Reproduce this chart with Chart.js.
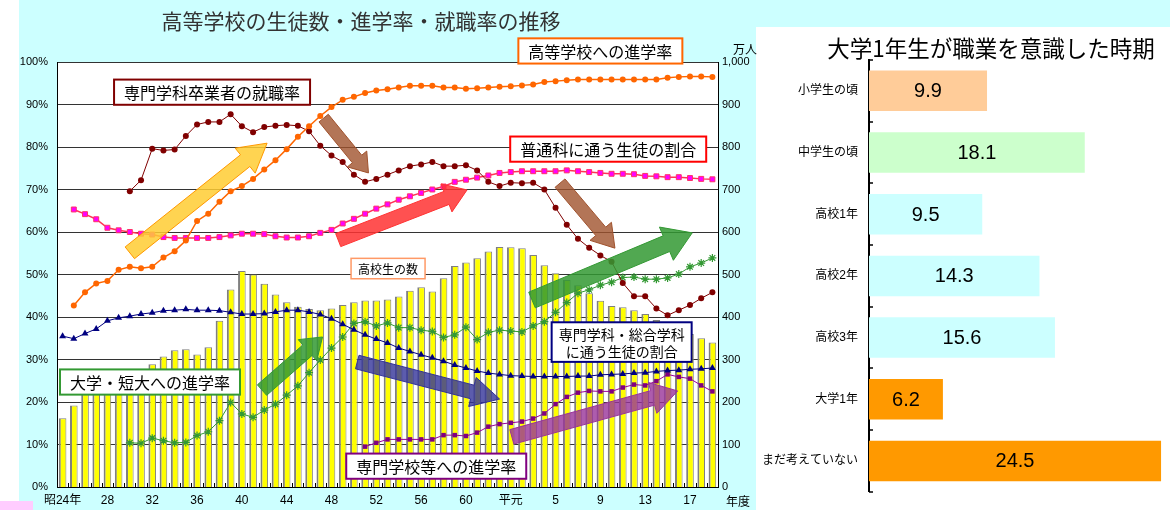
<!DOCTYPE html>
<html>
<head>
<meta charset="utf-8">
<script src="https://cdn.jsdelivr.net/npm/chart.js@4/dist/chart.umd.min.js"></script>
<style>
  body { margin: 0; width: 1170px; height: 510px; position: relative; background: #fff; overflow: hidden; }
  #bgL { position: absolute; left: 19px; top: 0; width: 737px; height: 510px; background: #ccffff; }
  #bgT { position: absolute; left: 19px; top: 0; width: 1151px; height: 27px; background: #ccffff; }
  #pink { position: absolute; left: 0; top: 501px; width: 33px; height: 9px; background: #ffccff; }
  #left { position: absolute; left: 0; top: 0; }
  #right { position: absolute; left: 760px; top: 27px; }
</style>
</head>
<body>
<div id="bgL"></div>
<div id="bgT"></div>
<div id="pink"></div>
<canvas id="left" width="760" height="510"></canvas>
<canvas id="right" width="410" height="483"></canvas>
<script>
// 年度（昭24〜平19）
const nendo = ["昭24年","25","26","27","28","29","30","31","32","33","34","35","36","37","38","39",
  "40","41","42","43","44","45","46","47","48","49","50","51","52","53","54","55","56","57","58","59",
  "60","61","62","63","平元","2","3","4","5","6","7","8","9","10","11","12","13","14","15","16","17","18","19"];

// 高校生の数（万人）
const seitoSu = [162,192,219,234,253,255,259,270,289,307,322,324,312,329,391,465,
  508,500,478,453,435,424,419,416,420,428,435,439,439,441,448,462,470,460,491,520,
  528,538,554,565,564,562,546,522,503,487,475,456,438,426,423,416,407,393,381,372,360,350,340];

// 高等学校への進学率（%）
const kokoShingaku = [null,42.7,45.8,47.9,48.5,51.1,51.8,51.5,51.8,54.0,55.5,58.0,62.6,64.3,67.1,69.6,
  70.8,72.5,74.7,76.9,79.5,82.4,84.9,87.3,89.4,91.1,91.8,92.7,93.3,93.6,94.0,94.4,94.4,94.4,94.0,94.0,
  93.7,93.8,94.0,94.2,94.3,94.5,94.7,95.3,95.5,95.7,95.9,95.9,95.9,95.9,95.9,95.9,95.9,95.9,96.3,96.5,96.6,96.6,96.5];

// 専門学科卒業者の就職率（%）
const shushoku = [null,null,null,null,null,null,69.6,72.2,79.6,79.2,79.4,82.6,85.3,85.9,85.9,87.7,
  84.9,83.5,84.7,85.0,85.2,85.0,83.7,80.3,78.0,76.5,73.5,71.8,72.5,73.5,74.5,75.5,75.9,76.5,75.5,75.5,
  75.7,74.5,71.8,70.8,71.6,71.5,71.6,70.0,65.7,61.7,58.4,56.3,54.5,53.0,48.0,44.9,44.9,42.0,40.4,41.6,42.8,44.4,45.8];

// 普通科に通う生徒の割合（%）
const futsuka = [null,65.3,64.2,63.0,61.0,60.4,60.0,59.6,59.4,58.8,58.6,58.6,58.6,58.6,58.8,59.2,
  59.6,59.6,59.5,59.0,58.7,58.7,59.0,59.8,60.5,62.0,63.1,64.3,65.5,66.5,67.6,68.4,69.2,70.0,70.7,71.8,
  72.3,72.8,73.3,73.9,74.1,74.3,74.3,74.3,74.3,74.5,74.3,74.1,73.9,73.7,73.7,73.6,73.2,73.1,72.9,72.9,72.7,72.5,72.4];

// 専門学科・総合学科に通う生徒の割合（%）
const senmonka = [35.5,34.9,36.1,37.2,39.1,39.8,40.2,40.7,41.0,41.5,41.6,41.8,41.6,41.6,41.5,41.1,
  40.7,40.7,40.8,41.2,41.6,41.6,41.2,40.6,39.6,38.3,37.0,35.8,34.8,33.9,32.7,31.9,31.1,30.4,29.6,28.7,
  28.0,27.3,26.8,26.5,26.2,26.1,26.0,26.0,26.0,26.0,26.1,26.1,26.4,26.5,26.6,26.8,26.9,27.2,27.4,27.5,27.7,27.8,28.0];

// 大学・短大への進学率（%）
const daigaku = [null,null,null,null,null,null,10.4,10.3,11.5,10.9,10.4,10.5,12.1,13.0,15.6,19.9,
  17.2,16.4,18.1,19.5,21.6,23.8,26.9,29.9,32.7,35.3,38.5,38.9,37.9,38.6,37.5,37.5,36.9,36.6,35.2,35.8,
  37.6,34.7,36.4,36.9,36.7,36.5,37.9,38.9,41.1,43.4,45.6,46.4,47.5,48.2,49.3,49.4,48.9,48.9,49.2,50.1,51.8,52.7,53.9];

// 専門学校等への進学率（%）
const senmonGakko = [null,null,null,null,null,null,null,null,null,null,null,null,null,null,null,null,
  null,null,null,null,null,null,null,null,null,null,null,9.5,10.4,11.2,11.2,11.2,11.2,11.2,12.2,12.2,
  12.0,12.8,14.2,14.8,15.1,15.4,16.1,17.3,19.5,21.2,22.2,22.6,22.5,22.5,23.4,24.1,23.9,24.9,26.5,25.9,25.5,23.9,22.5];

// 右：大学1年生が職業を意識した時期（%）
const jiki = ["小学生の頃","中学生の頃","高校1年","高校2年","高校3年","大学1年","まだ考えていない"];
const jikiWariai = [9.9, 18.1, 9.5, 14.3, 15.6, 6.2, 24.5];
const jikiColors = ["#ffcc99","#ccffcc","#ccffff","#ccffff","#ccffff","#ff9900","#ff9900"];

const JP = "'Liberation Sans', 'Noto Sans CJK JP', sans-serif";

// 注釈（データ座標：カテゴリ番号と%）
const arrows = [
  { from: [6.0, 55.1], to: [18.25, 80.9], fill: "rgba(255,204,51,0.85)", line: "#ff9900", w: 15, hw: 32, hl: 28 },
  { from: [23.3, 86.8], to: [27.3, 73.9], fill: "rgba(160,82,45,0.8)", line: "#a0522d", w: 12, hw: 25, hl: 18 },
  { from: [24.6, 58.1], to: [36.1, 69.9], fill: "rgba(255,51,51,0.85)", line: "#ff3333", w: 14, hw: 30, hl: 22 },
  { from: [44.4, 71.5], to: [49.3, 56.2], fill: "rgba(160,82,45,0.8)", line: "#a0522d", w: 13, hw: 28, hl: 22 },
  { from: [41.9, 44.0], to: [56.2, 59.8], fill: "rgba(51,153,51,0.85)", line: "#339933", w: 17, hw: 36, hl: 28 },
  { from: [17.8, 22.8], to: [23.2, 35.3], fill: "rgba(51,153,51,0.85)", line: "#339933", w: 14, hw: 28, hl: 20 },
  { from: [26.3, 29.4], to: [39.0, 20.7], fill: "rgba(51,51,153,0.8)", line: "#333399", w: 14, hw: 30, hl: 28 },
  { from: [40.1, 11.8], to: [54.9, 22.6], fill: "rgba(153,51,153,0.8)", line: "#993399", w: 15, hw: 32, hl: 26 }
];

const boxes = [
  { text: ["専門学科卒業者の就職率"], at: [13.34, 92.9], size: 16, line: "#800000", lw: 2 },
  { text: ["高等学校への進学率"], at: [48.0, 102.6], size: 16, line: "#ff6600", lw: 2 },
  { text: ["普通科に通う生徒の割合"], at: [48.7, 79.5], size: 16, line: "#ff0000", lw: 2 },
  { text: ["高校生の数"], at: [29.05, 51.4], size: 12, line: "#ff9966", lw: 1.5 },
  { text: ["大学・短大への進学率"], at: [7.8, 24.7], size: 16, line: "#339933", lw: 2 },
  { text: ["専門学科・総合学科", "に通う生徒の割合"], at: [49.9, 34.1], size: 14, line: "#000080", lw: 2 },
  { text: ["専門学校等への進学率"], at: [33.35, 4.9], size: 16, line: "#800080", lw: 2 }
];

function drawArrow(ctx, x1, y1, x2, y2, a) {
  const len = Math.hypot(x2 - x1, y2 - y1);
  const ux = (x2 - x1) / len, uy = (y2 - y1) / len;
  const nx = -uy, ny = ux;
  const bx = x2 - ux * a.hl, by = y2 - uy * a.hl;
  const w = a.w / 2, hw = a.hw / 2;
  ctx.beginPath();
  ctx.moveTo(x1 + nx * w, y1 + ny * w);
  ctx.lineTo(bx + nx * w, by + ny * w);
  ctx.lineTo(bx + nx * hw, by + ny * hw);
  ctx.lineTo(x2, y2);
  ctx.lineTo(bx - nx * hw, by - ny * hw);
  ctx.lineTo(bx - nx * w, by - ny * w);
  ctx.lineTo(x1 - nx * w, y1 - ny * w);
  ctx.closePath();
  ctx.fillStyle = a.fill;
  ctx.fill();
  ctx.strokeStyle = a.line;
  ctx.lineWidth = 1;
  ctx.stroke();
}

const leftDecor = {
  id: "leftDecor",
  beforeDraw(chart) {
    const { ctx, chartArea: c } = chart;
    ctx.save();
    ctx.fillStyle = "#fff";
    ctx.fillRect(c.left, c.top, c.right - c.left, c.bottom - c.top);
    ctx.restore();
  },
  afterDatasetsDraw(chart) {
    const { ctx, chartArea: c, scales } = chart;
    const x = scales.x, y = scales.y;
    ctx.save();
    // 目盛り（内向き）
    ctx.strokeStyle = "#000";
    ctx.lineWidth = 1;
    const step = (c.right - c.left) / nendo.length;
    for (let i = 1; i < nendo.length; i++) {
      const px = Math.round(c.left + i * step) + 0.5;
      ctx.beginPath();
      ctx.moveTo(px, c.bottom);
      ctx.lineTo(px, c.bottom - 4);
      ctx.stroke();
    }
    arrows.forEach(a => {
      drawArrow(ctx, x.getPixelForValue(a.from[0]), y.getPixelForValue(a.from[1]),
        x.getPixelForValue(a.to[0]), y.getPixelForValue(a.to[1]), a);
    });
    boxes.forEach(b => {
      ctx.font = b.size + "px 'Noto Sans CJK JP', sans-serif";
      const tw = Math.max(...b.text.map(t => ctx.measureText(t).width));
      const lh = b.size * 1.2;
      const bw = tw + (b.size >= 16 ? 20 : 14);
      const bh = lh * b.text.length + 6;
      const cx = x.getPixelForValue(b.at[0]), cy = y.getPixelForValue(b.at[1]);
      ctx.fillStyle = "#fff";
      ctx.fillRect(cx - bw / 2, cy - bh / 2, bw, bh);
      ctx.strokeStyle = b.line;
      ctx.lineWidth = b.lw;
      ctx.strokeRect(cx - bw / 2, cy - bh / 2, bw, bh);
      ctx.fillStyle = "#000";
      ctx.textAlign = "center";
      ctx.textBaseline = "middle";
      b.text.forEach((t, k) => {
        ctx.fillText(t, cx, cy + (k - (b.text.length - 1) / 2) * lh + 1);
      });
    });
    // タイトルと単位
    ctx.fillStyle = "#333";
    ctx.textAlign = "center";
    ctx.textBaseline = "middle";
    ctx.font = "21px 'Noto Sans CJK JP', sans-serif";
    ctx.fillText("高等学校の生徒数・進学率・就職率の推移", 361, 21);
    ctx.fillStyle = "#000";
    ctx.font = "12px 'Noto Sans CJK JP', sans-serif";
    ctx.fillText("万人", 745, 49);
    ctx.fillText("年度", 738, 501);
    ctx.restore();
  }
};

new Chart(document.getElementById("left"), {
  data: {
    labels: nendo,
    datasets: [
      { type: "line", label: "高等学校への進学率", data: kokoShingaku, yAxisID: "y", order: 1,
        borderColor: "#ff6600", backgroundColor: "#ff6600", borderWidth: 1.5, pointRadius: 3, pointBorderWidth: 0 },
      { type: "line", label: "専門学科卒業者の就職率", data: shushoku, yAxisID: "y", order: 1,
        borderColor: "#800000", backgroundColor: "#800000", borderWidth: 1, pointRadius: 3, pointBorderWidth: 0 },
      { type: "line", label: "普通科に通う生徒の割合", data: futsuka, yAxisID: "y", order: 1,
        borderColor: "#ff3355", backgroundColor: "#ff00ff", borderWidth: 1.5, pointStyle: "rect",
        pointRadius: 3.5, pointBorderColor: "#ff3366", pointBorderWidth: 1 },
      { type: "line", label: "専門学科・総合学科に通う生徒の割合", data: senmonka, yAxisID: "y", order: 1,
        borderColor: "#000080", backgroundColor: "#000080", borderWidth: 1, pointStyle: "triangle",
        pointRadius: 4, pointBorderWidth: 0 },
      { type: "line", label: "大学・短大への進学率", data: daigaku, yAxisID: "y", order: 1,
        borderColor: "#339933", backgroundColor: "#99dd99", borderWidth: 1, pointStyle: "star",
        pointRadius: 4, pointBorderColor: "#339933", pointBorderWidth: 1.2 },
      { type: "line", label: "専門学校等への進学率", data: senmonGakko, yAxisID: "y", order: 1,
        borderColor: "#990099", backgroundColor: "#800080", borderWidth: 1, pointStyle: "rect",
        pointRadius: 3.2, pointBorderWidth: 0 },
      { type: "bar", label: "高校生の数", data: seitoSu, yAxisID: "y1", order: 10,
        backgroundColor: "#ffff00", borderColor: "#808080",
        borderWidth: { left: 2, top: 1, right: 1, bottom: 0 }, barPercentage: 0.68, categoryPercentage: 1 }
    ]
  },
  options: {
    responsive: false,
    animation: false,
    layout: { padding: { top: 62, left: 0, right: 0, bottom: 0 } },
    scales: {
      x: {
        type: "category",
        offset: true,
        grid: { display: false, drawTicks: false },
        border: { color: "#000", width: 1 },
        ticks: { autoSkip: false, maxRotation: 0, color: "#000", padding: 6,
          font: { family: JP, size: 12 },
          callback: (v, i) => (i % 4 === 0 ? nendo[i] : "") },
        afterFit: s => { s.height = 23; }
      },
      y: {
        position: "left", min: 0, max: 100,
        grid: { color: "#333", lineWidth: 1, drawTicks: false },
        border: { color: "#000", width: 1 },
        ticks: { stepSize: 10, color: "#000", padding: 9, font: { family: JP, size: 11 },
          callback: v => v + "%" },
        afterFit: s => { s.width = 57; }
      },
      y1: {
        position: "right", min: 0, max: 1000,
        grid: { display: false, drawTicks: false },
        border: { color: "#000", width: 1 },
        ticks: { stepSize: 100, color: "#000", padding: 4, font: { family: JP, size: 11 },
          callback: v => v.toLocaleString("en-US") },
        afterFit: s => { s.width = 42; }
      }
    },
    plugins: { legend: { display: false }, tooltip: { enabled: false } }
  },
  plugins: [leftDecor]
});

const rightDecor = {
  id: "rightDecor",
  afterDatasetsDraw(chart) {
    const { ctx, chartArea: c } = chart;
    ctx.save();
    // 内向き目盛り
    ctx.strokeStyle = "#000";
    ctx.lineWidth = 1.5;
    for (let i = 0; i <= jiki.length; i++) {
      const py = Math.round(c.top + i * (c.bottom - c.top) / jiki.length);
      ctx.beginPath();
      ctx.moveTo(c.left, py);
      ctx.lineTo(c.left + 4, py);
      ctx.stroke();
    }
    // 値ラベル
    ctx.fillStyle = "#000";
    ctx.textAlign = "center";
    ctx.textBaseline = "middle";
    ctx.font = "20px 'Liberation Sans', sans-serif";
    chart.getDatasetMeta(0).data.forEach((bar, i) => {
      ctx.fillText(jikiWariai[i].toFixed(1), (bar.base + bar.x) / 2, bar.y + 1);
    });
    ctx.font = "22.5px 'Noto Sans CJK JP', sans-serif";
    ctx.fillText("大学1年生が職業を意識した時期", 231, 21);
    ctx.restore();
  }
};

new Chart(document.getElementById("right"), {
  type: "bar",
  data: {
    labels: jiki,
    datasets: [{ data: jikiWariai, backgroundColor: jikiColors, barPercentage: 0.656, categoryPercentage: 1 }]
  },
  options: {
    indexAxis: "y",
    responsive: false,
    animation: false,
    layout: { padding: { top: 33, bottom: 2, left: 0, right: 0 } },
    scales: {
      x: { min: 0, max: 25.25, display: false },
      y: {
        grid: { display: false, drawTicks: false },
        border: { color: "#000", width: 2 },
        ticks: { color: "#000", padding: 11, font: { family: JP, size: 12 } },
        afterFit: s => { s.width = 109; }
      }
    },
    plugins: { legend: { display: false }, tooltip: { enabled: false } }
  },
  plugins: [rightDecor]
});
</script>
</body>
</html>
